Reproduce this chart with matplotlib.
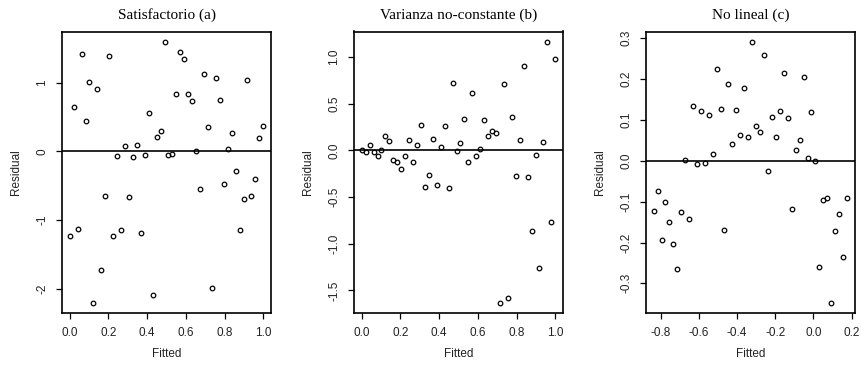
import matplotlib
matplotlib.use('Agg')
import matplotlib.pyplot as plt

plt.rcParams['axes.unicode_minus'] = False

# fitted values (shared by panels a and b)
fitted_ab = [
    0.000, 0.020, 0.041, 0.061, 0.082, 0.102, 0.122, 0.143, 0.163, 0.184,
    0.204, 0.224, 0.245, 0.265, 0.286, 0.306, 0.327, 0.347, 0.367, 0.388,
    0.408, 0.429, 0.449, 0.469, 0.490, 0.510, 0.531, 0.551, 0.571, 0.592,
    0.612, 0.633, 0.653, 0.673, 0.694, 0.714, 0.735, 0.755, 0.776, 0.796,
    0.816, 0.837, 0.857, 0.878, 0.898, 0.918, 0.939, 0.959, 0.980, 1.000
]

resid_a = [
    -1.23, 0.64, -1.13, 1.41, 0.44, 1.01, -2.20, 0.90, -1.73, -0.65,
    1.39, -1.23, -0.07, -1.15, 0.07, -0.67, -0.08, 0.09, -1.19, -0.05,
    0.56, -2.09, 0.21, 0.29, 1.59, -0.06, -0.04, 0.83, 1.45, 1.34,
    0.83, 0.73, 0.00, -0.55, 1.12, 0.35, -1.99, 1.07, 0.74, -0.47,
    0.03, 0.27, -0.28, -1.15, -0.69, 1.04, -0.65, -0.40, 0.19, 0.37
]

resid_b = [
    0.00, -0.02, 0.06, -0.02, -0.06, 0.00, 0.15, 0.10, -0.10, -0.13,
    -0.20, -0.06, 0.11, -0.125, 0.06, 0.27, -0.39, -0.26, 0.12, -0.37,
    0.03, 0.26, -0.40, 0.72, -0.01, 0.08, 0.34, -0.13, 0.61, -0.06,
    0.01, 0.32, 0.15, 0.21, 0.19, -1.63, 0.71, -1.58, 0.36, -0.27,
    0.11, 0.90, -0.29, -0.86, -0.05, -1.26, 0.09, 1.16, -0.77, 0.98
]

fitted_c = [
    -0.837, -0.816, -0.795, -0.776, -0.755, -0.734, -0.715, -0.692, -0.673, -0.652,
    -0.631, -0.612, -0.591, -0.570, -0.550, -0.529, -0.508, -0.487, -0.468, -0.447,
    -0.426, -0.405, -0.386, -0.365, -0.344, -0.323, -0.301, -0.278, -0.257, -0.238,
    -0.217, -0.196, -0.175, -0.156, -0.133, -0.114, -0.093, -0.073, -0.052, -0.031,
    -0.012, 0.010, 0.031, 0.052, 0.072, 0.093, 0.114, 0.133, 0.156, 0.177
]

resid_c = [
    -0.122, -0.074, -0.193, -0.100, -0.149, -0.203, -0.264, -0.125, 0.001, -0.143,
    0.134, -0.007, 0.123, -0.005, 0.112, 0.017, 0.225, 0.127, -0.169, 0.188,
    0.041, 0.125, 0.064, 0.177, 0.058, 0.291, 0.086, 0.070, 0.259, -0.025,
    0.108, 0.059, 0.122, 0.214, 0.104, -0.119, 0.026, 0.050, 0.205, 0.007,
    0.119, 0.000, -0.259, -0.096, -0.091, -0.347, -0.173, -0.131, -0.235, -0.091
]

titles = ['Satisfactorio (a)', 'Varianza no-constante (b)', 'No lineal (c)']
xticks = [[0.0, 0.2, 0.4, 0.6, 0.8, 1.0],
          [0.0, 0.2, 0.4, 0.6, 0.8, 1.0],
          [-0.8, -0.6, -0.4, -0.2, 0.0, 0.2]]
yticks = [[-2, -1, 0, 1],
          [-1.5, -1.0, -0.5, 0.0, 0.5, 1.0],
          [-0.3, -0.2, -0.1, 0.0, 0.1, 0.2, 0.3]]
ylabels = [['-2', '-1', '0', '1'],
           ['-1.5', '-1.0', '-0.5', '0.0', '0.5', '1.0'],
           ['-0.3', '-0.2', '-0.1', '0.0', '0.1', '0.2', '0.3']]
panels = [(fitted_ab, resid_a), (fitted_ab, resid_b), (fitted_c, resid_c)]

fig = plt.figure(figsize=(8.61, 3.68), dpi=100)
lefts = [62, 354, 646]

for i, (x, y) in enumerate(panels):
    ax = fig.add_axes([lefts[i] / 861, 55 / 368, 209 / 861, 281.5 / 368])
    ax.plot(x, y, linestyle='None', marker='o', ms=3.3, mfc='none',
            mec='black', mew=0.9)
    ax.axhline(0, color='black', lw=1.2)

    # R style 4% padding around data range
    xr = max(x) - min(x)
    yr = max(y) - min(y)
    ax.set_xlim(min(x) - 0.04 * xr, max(x) + 0.04 * xr)
    ax.set_ylim(min(y) - 0.04 * yr, max(y) + 0.04 * yr)

    ax.set_xticks(xticks[i])
    ax.set_xticklabels(['%.1f' % v for v in xticks[i]], family='Liberation Sans',
                       fontsize=8.5, color='#222222')
    ax.set_yticks(yticks[i])
    ax.set_yticklabels(ylabels[i], family='Liberation Sans', fontsize=8.5,
                       color='#222222', rotation=90, va='center')
    ax.tick_params(direction='out', length=4.3, width=0.9, pad=5.5)
    ax.tick_params(axis='y', pad=5.5)
    for s in ax.spines.values():
        s.set_linewidth(1.2)

    ax.set_title(titles[i], family='Liberation Serif', fontsize=11, pad=9)
    ax.set_xlabel('Fitted', family='Liberation Sans', fontsize=8.5, color='#222222',
                  labelpad=7)
    ax.set_ylabel('Residual', family='Liberation Sans', fontsize=8.5, color='#222222',
                  labelpad=10)

fig.savefig('out.png', dpi=100)
